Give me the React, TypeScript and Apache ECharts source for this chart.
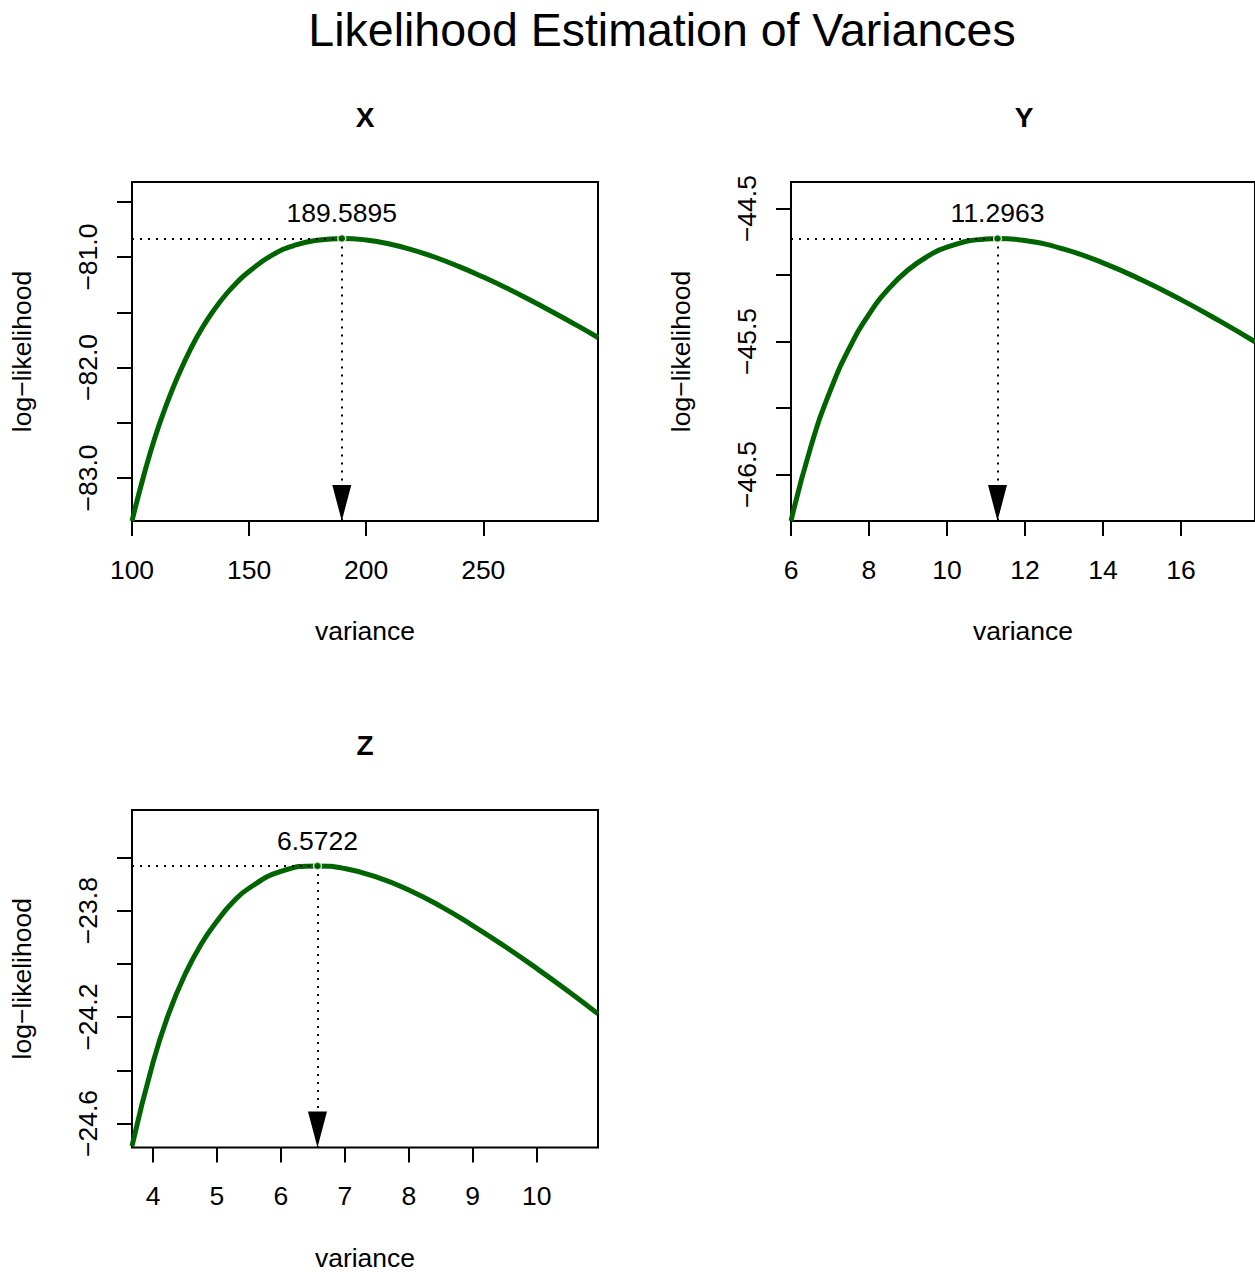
import React, { useEffect, useRef } from "react";
import * as echarts from "echarts";

// ---- Data ----
const MAIN_TITLE = "Likelihood Estimation of Variances";
const PANEL_TITLES = ["X", "Y", "Z"];
const X_AXIS_NAME = "variance";
const Y_AXIS_NAME = "log\u2212likelihood";

// Panel X
const X_VAR = [100, 105, 110, 115, 120, 125, 130, 135, 140, 145, 150, 160, 170, 180, 189.5895, 200, 210, 220, 230, 240, 250, 260, 270, 280, 290, 299];
const X_LL = [-83.39, -82.98, -82.62, -82.32, -82.06, -81.833, -81.64, -81.479, -81.341, -81.225, -81.13, -80.98, -80.89, -80.845, -80.831, -80.845, -80.881, -80.937, -81.006, -81.089, -81.181, -81.281, -81.389, -81.502, -81.619, -81.728];
const X_MLE = 189.5895;
const X_MAX_LL = -80.831;
const X_XTICKS = [100, 150, 200, 250];
const X_YTICKS = [-80.5, -81.0, -81.5, -82.0, -82.5, -83.0];
const X_YLABELS = [-81.0, -82.0, -83.0];

// Panel Y
const Y_VAR = [6, 6.5, 7, 7.5, 8, 8.5, 9, 9.5, 10, 11, 11.2963, 12, 13, 14, 15, 16, 17, 17.9];
const Y_LL = [-46.85, -46.3, -45.875, -45.547, -45.295, -45.104, -44.962, -44.86, -44.79, -44.728, -44.725, -44.74, -44.805, -44.908, -45.037, -45.185, -45.347, -45.502];
const Y_MLE = 11.2963;
const Y_MAX_LL = -44.725;
const Y_XTICKS = [6, 8, 10, 12, 14, 16];
const Y_YTICKS = [-44.5, -45.0, -45.5, -46.0, -46.5];
const Y_YLABELS = [-44.5, -45.5, -46.5];

// Panel Z
const Z_VAR = [3.671, 4, 4.25, 4.5, 4.75, 5, 5.25, 5.5, 6, 6.5722, 7, 7.5, 8, 8.5, 9, 9.5, 10, 10.5, 10.96];
const Z_LL = [-24.685, -24.37, -24.184, -24.04, -23.927, -23.84, -23.768, -23.716, -23.653, -23.632, -23.642, -23.674, -23.7225, -23.784, -23.856, -23.934, -24.017, -24.104, -24.188];
const Z_MLE = 6.5722;
const Z_MAX_LL = -23.632;
const Z_XTICKS = [4, 5, 6, 7, 8, 9, 10];
const Z_YTICKS = [-23.6, -23.8, -24.0, -24.2, -24.4, -24.6];
const Z_YLABELS = [-23.8, -24.2, -24.6];

const FONT = "'Liberation Sans', Arial, Helvetica, sans-serif";
const GREEN = "#006400";

type Panel = {
  title: string;
  vars: number[];
  ll: number[];
  mle: number;
  maxLL: number;
  xMin: number;
  xMax: number;
  yMin: number;
  yMax: number;
  xTicks: number[];
  yTicks: number[];
  yLabels: number[];
  grid: { left: number; top: number; width: number; height: number };
};

const PANELS: Panel[] = [
  {
    title: PANEL_TITLES[0], vars: X_VAR, ll: X_LL, mle: X_MLE, maxLL: X_MAX_LL,
    xMin: 100, xMax: 299, yMin: -83.39, yMax: -80.32,
    xTicks: X_XTICKS, yTicks: X_YTICKS, yLabels: X_YLABELS,
    grid: { left: 132, top: 182, width: 466, height: 339 },
  },
  {
    title: PANEL_TITLES[1], vars: Y_VAR, ll: Y_LL, mle: Y_MLE, maxLL: Y_MAX_LL,
    xMin: 6, xMax: 17.9, yMin: -46.85, yMax: -44.3,
    xTicks: Y_XTICKS, yTicks: Y_YTICKS, yLabels: Y_YLABELS,
    grid: { left: 791, top: 182, width: 466, height: 339 },
  },
  {
    title: PANEL_TITLES[2], vars: Z_VAR, ll: Z_LL, mle: Z_MLE, maxLL: Z_MAX_LL,
    xMin: 3.671, xMax: 10.96, yMin: -24.69, yMax: -23.422,
    xTicks: Z_XTICKS, yTicks: Z_YTICKS, yLabels: Z_YLABELS,
    grid: { left: 132, top: 810, width: 466, height: 339 },
  },
];

const fmtY = (v: number) => (v < 0 ? "\u2212" : "") + Math.abs(v).toFixed(1);

function buildOption() {
  const titles: any[] = [
    {
      text: MAIN_TITLE, left: 662, top: 30, padding: 0,
      textAlign: "center", textVerticalAlign: "middle",
      textStyle: { fontFamily: FONT, fontSize: 46.5, fontWeight: "normal", color: "#000" },
    },
  ];
  const grids: any[] = [];
  const xAxes: any[] = [];
  const yAxes: any[] = [];
  const series: any[] = [];

  PANELS.forEach((p, i) => {
    const cx = p.grid.left + p.grid.width / 2;
    titles.push({
      text: p.title, left: cx, top: p.grid.top - 65, padding: 0,
      textAlign: "center", textVerticalAlign: "middle",
      textStyle: { fontFamily: FONT, fontSize: 28, fontWeight: "bold", color: "#000" },
    });
    grids.push({
      ...p.grid, show: true, borderColor: "#000", borderWidth: 2,
      backgroundColor: "transparent", containLabel: false,
    });
    xAxes.push({
      type: "value", gridIndex: i, min: p.xMin, max: p.xMax,
      name: X_AXIS_NAME, nameLocation: "middle", nameGap: 110,
      nameTextStyle: { fontFamily: FONT, fontSize: 26.5, color: "#000", verticalAlign: "middle" },
      axisLine: { show: false },
      axisTick: { show: true, inside: false, length: 15, customValues: p.xTicks, lineStyle: { color: "#000", width: 2 } },
      axisLabel: {
        show: true, customValues: p.xTicks, margin: 48.5, verticalAlign: "middle",
        fontFamily: FONT, fontSize: 26.5, color: "#000",
        formatter: (v: number) => String(v),
      },
      splitLine: { show: false },
    });
    yAxes.push({
      type: "value", gridIndex: i, min: p.yMin, max: p.yMax,
      name: Y_AXIS_NAME, nameLocation: "middle", nameGap: 110, nameRotate: 90,
      nameTextStyle: { fontFamily: FONT, fontSize: 26.5, color: "#000", verticalAlign: "middle" },
      axisLine: { show: false },
      axisTick: { show: true, inside: false, length: 15, customValues: p.yTicks, lineStyle: { color: "#000", width: 2 } },
      axisLabel: {
        show: true, customValues: p.yLabels, margin: 44, rotate: 90,
        align: "center", verticalAlign: "middle",
        fontFamily: FONT, fontSize: 26.5, color: "#000",
        formatter: (v: number) => fmtY(v),
      },
      splitLine: { show: false },
    });
    series.push({
      type: "line", xAxisIndex: i, yAxisIndex: i,
      data: p.vars.map((v, k) => [v, p.ll[k]]),
      showSymbol: false, smooth: 0.5,
      lineStyle: { color: GREEN, width: 5 },
      z: 2,
    });
    series.push({
      type: "scatter", xAxisIndex: i, yAxisIndex: i,
      data: [[p.mle, p.maxLL]],
      symbol: "circle", symbolSize: 8,
      itemStyle: { color: GREEN, borderColor: "#fff", borderWidth: 1.5 },
      label: {
        show: true, position: "top", distance: 7,
        fontFamily: FONT, fontSize: 26.5, color: "#000", opacity: 1,
        textBorderWidth: 0,
        formatter: (prm: any) => prm.value[0].toFixed(4),
      },
      z: 5,
      markLine: {
        silent: true,
        symbol: ["none", "none"],
        label: { show: false },
        lineStyle: { color: "#000", width: 2, type: [2, 6], opacity: 1 },
        data: [
          [{ coord: [p.xMin, p.maxLL] }, { coord: [p.mle, p.maxLL] }],
          [
            { coord: [p.mle, p.maxLL] },
            { coord: [p.mle, p.yMin], symbol: "triangle", symbolSize: [19, 36], symbolOffset: [0, 18] },
          ],
        ],
      },
    });
  });

  return {
    animation: false,
    backgroundColor: "#fff",
    title: titles,
    grid: grids,
    xAxis: xAxes,
    yAxis: yAxes,
    series,
  };
}

export default function App() {
  const ref = useRef<HTMLDivElement>(null);
  useEffect(() => {
    if (!ref.current) return;
    const chart = echarts.init(ref.current, undefined, { renderer: "svg" });
    chart.setOption(buildOption());
    return () => chart.dispose();
  }, []);
  return (
    <div
      ref={ref}
      style={{ position: "absolute", left: 0, top: 0, width: 1255, height: 1272, background: "#fff" }}
    />
  );
}
